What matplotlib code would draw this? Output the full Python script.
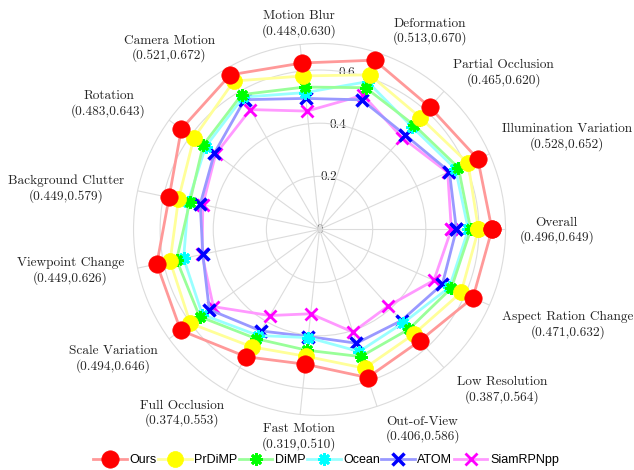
import matplotlib
matplotlib.use('Agg')
import matplotlib.pyplot as plt
import numpy as np
from matplotlib.lines import Line2D

categories = ['Overall', 'Illumination Variation', 'Partial Occlusion', 'Deformation',
              'Motion Blur', 'Camera Motion', 'Rotation', 'Background Clutter',
              'Viewpoint Change', 'Scale Variation', 'Full Occlusion', 'Fast Motion',
              'Out-of-View', 'Low Resolution', 'Aspect Ration Change']
ranges = ['(0.496,0.649)', '(0.528,0.652)', '(0.465,0.620)', '(0.513,0.670)',
          '(0.448,0.630)', '(0.521,0.672)', '(0.483,0.643)', '(0.449,0.579)',
          '(0.449,0.626)', '(0.494,0.646)', '(0.374,0.553)', '(0.319,0.510)',
          '(0.406,0.586)', '(0.387,0.564)', '(0.471,0.632)']

trackers = ['Ours', 'PrDiMP', 'DiMP', 'Ocean', 'ATOM', 'SiamRPNpp']
ours = [0.649, 0.652, 0.620, 0.670, 0.630, 0.672, 0.643, 0.579, 0.626, 0.646, 0.553, 0.510, 0.586, 0.564, 0.632]
prdimp = [0.598, 0.612, 0.567, 0.612, 0.581, 0.645, 0.585, 0.543, 0.575, 0.601, 0.510, 0.480, 0.549, 0.530, 0.583]
dimp = [0.569, 0.572, 0.530, 0.561, 0.539, 0.586, 0.541, 0.499, 0.550, 0.558, 0.475, 0.457, 0.503, 0.504, 0.543]
ocean = [0.560, 0.560, 0.520, 0.585, 0.518, 0.575, 0.530, 0.505, 0.523, 0.545, 0.461, 0.409, 0.483, 0.472, 0.535]
atom = [0.515, 0.535, 0.480, 0.513, 0.496, 0.564, 0.489, 0.459, 0.449, 0.513, 0.441, 0.405, 0.450, 0.461, 0.506]
siamrpnpp = [0.496, 0.528, 0.465, 0.531, 0.448, 0.521, 0.483, 0.449, 0.452, 0.494, 0.374, 0.319, 0.406, 0.387, 0.471]
values = [ours, prdimp, dimp, ocean, atom, siamrpnpp]

rticks = [0, 0.2, 0.4, 0.6]
rtick_labels = ['0', '0.2', '0.4', '0.6']

line_colors = ['#ff9999', '#ffff99', '#99ff99', '#99ffff', '#9999ff', '#ff99ff']
marker_colors = ['#ff0000', '#ffff00', '#00ff00', '#00ffff', '#0000ff', '#ff00ff']
markers = ['o', 'o', (8, 2, 0), (8, 2, 0), 'x', 'x']
msizes = [12.5, 11.5, 9, 9, 8, 8]
mews = [0.5, 0.5, 2.0, 2.0, 2.5, 2.0]

# fine label nudges in pixels (dx right, dy down)
label_nudge = [(0, 1), (0, 3), (0, 6), (11, 6), (0, 7), (-5, 6), (-12, 6), (0, 1),
               (0, 0), (0, -2), (4, -3), (0, -5), (4, -4), (4, -2), (0, 0)]

plt.rcParams['axes.unicode_minus'] = False
fig = plt.figure(figsize=(6.34, 4.70), dpi=100)
ax = fig.add_axes([0.2106, 0.116, 0.5868, 0.7915], projection='polar')

n = len(categories)
theta = np.arange(n) * 2 * np.pi / n
ax.set_ylim(0, 0.7)
ax.set_xticks(theta)
ax.set_xticklabels([])
ax.set_yticks(rticks)
ax.set_yticklabels([])
ax.grid(color='#dcdcdc', linewidth=0.8)
ax.spines['polar'].set_color('#dcdcdc')
ax.spines['polar'].set_linewidth(0.8)
ax.tick_params(axis='both', length=0)

txtcol = '#262626'
for r, lab in zip(rticks, rtick_labels):
    ax.text(np.deg2rad(80), r, lab, ha='center', va='center', fontfamily='cmr10',
            fontsize=9.5, color=txtcol, zorder=1)

th_closed = np.append(theta, theta[0])
for i in reversed(range(len(trackers))):
    v = np.append(values[i], values[i][0])
    ax.plot(th_closed, v, color=line_colors[i], lw=2.0, marker=markers[i],
            ms=msizes[i], mfc=marker_colors[i], mec=marker_colors[i], mew=mews[i],
            zorder=3 + (len(trackers) - i), clip_on=False)

R_lab = 0.752
for t, cat, rg, (ndx, ndy) in zip(theta, categories, ranges, label_nudge):
    c, s = np.cos(t), np.sin(t)
    ha = 'left' if c > 0.2 else ('right' if c < -0.2 else 'center')
    va = 'bottom' if s > 0.3 else ('top' if s < -0.3 else 'center')
    ax.annotate(cat + '\n' + rg, xy=(t, R_lab), xytext=(ndx * 0.72, -ndy * 0.72),
                textcoords='offset points', ha=ha, va=va, multialignment='center',
                fontfamily='cmr10', fontsize=9.6, color=txtcol, linespacing=1.2,
                annotation_clip=False)

handles = [Line2D([], [], color=line_colors[i], lw=2.0, marker=markers[i], ms=msizes[i],
                  mfc=marker_colors[i], mec=marker_colors[i], mew=mews[i])
           for i in range(len(trackers))]
fig.legend(handles, trackers, loc='center', bbox_to_anchor=(326 / 634, 1 - 460 / 470),
           ncol=6, frameon=False, handlelength=2.7, handletextpad=0.2, columnspacing=0.1,
           prop={'family': ['Liberation Sans Narrow', 'Liberation Sans'], 'size': 9})

fig.savefig('out.png', dpi=100)
